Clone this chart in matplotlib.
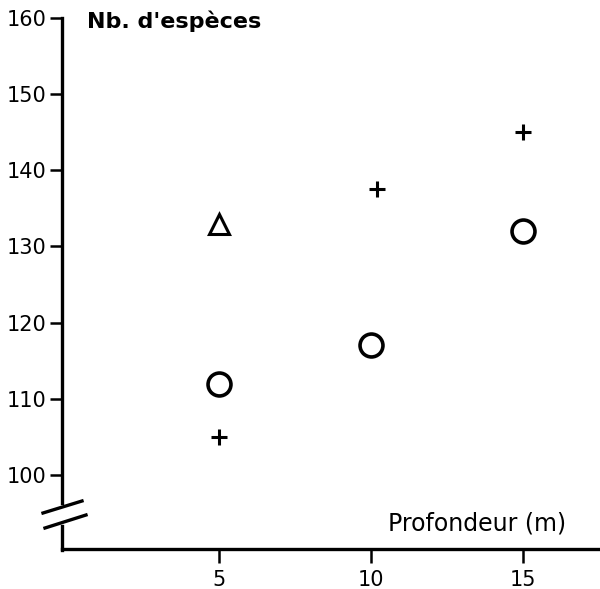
import matplotlib
matplotlib.use("Agg")
import matplotlib.pyplot as plt
from matplotlib.lines import Line2D

# Data
plus_x = [5, 10.2, 15]
plus_y = [105, 137.5, 145]
circle_x = [5, 10, 15]
circle_y = [112, 117, 132]
triangle_x = [5]
triangle_y = [133]
x_ticks = [5, 10, 15]
y_ticks = [100, 110, 120, 130, 140, 150, 160]

W, H = 600, 589
fig = plt.figure(figsize=(W / 100, H / 100), dpi=100)
ax = fig.add_axes([62 / W, 1 - 549 / H, 538 / W, 531 / H])
ax.set_xlim(-0.17, 17.55)
ax.set_ylim(90.28, 160)

ax.plot(plus_x, plus_y, linestyle="none", marker="+", markersize=12,
        markeredgewidth=2.2, color="black")
ax.plot(circle_x, circle_y, linestyle="none", marker="o", markersize=16.5,
        markerfacecolor="none", markeredgewidth=2.6, color="black")
ax.plot(triangle_x, triangle_y, linestyle="none", marker="^", markersize=15,
        markerfacecolor="none", markeredgewidth=2.2, color="black")

for s in ["top", "right", "left"]:
    ax.spines[s].set_visible(False)
ax.spines["bottom"].set_linewidth(2.4)

ax.set_xticks(x_ticks)
ax.set_xticklabels([str(v) for v in x_ticks])
ax.set_yticks(y_ticks)
ax.set_yticklabels([str(v) for v in y_ticks])
ax.tick_params(axis="x", direction="out", length=10, width=1.8, labelsize=15, pad=5)
ax.tick_params(axis="y", direction="out", length=9, width=1.8, labelsize=15, pad=2)

# Broken left spine (drawn in figure pixel coords)
def fx(px):
    return px / W

def fy(py):
    return 1 - py / H

fig.add_artist(Line2D([fx(62), fx(62)], [fy(18), fy(503)], color="black", lw=2.4))
fig.add_artist(Line2D([fx(62), fx(62)], [fy(526), fy(550)], color="black", lw=2.4))
fig.add_artist(Line2D([fx(43), fx(82)], [fy(513), fy(501)], color="black", lw=2.4))
fig.add_artist(Line2D([fx(45), fx(86)], [fy(528), fy(515)], color="black", lw=2.4))

fig.text(fx(87), fy(21), "Nb. d'espèces", fontsize=16, fontweight="bold",
         ha="left", va="center")
fig.text(fx(388), fy(524), "Profondeur (m)", fontsize=17,
         ha="left", va="center")

fig.savefig("out.png", dpi=100, facecolor="white")
